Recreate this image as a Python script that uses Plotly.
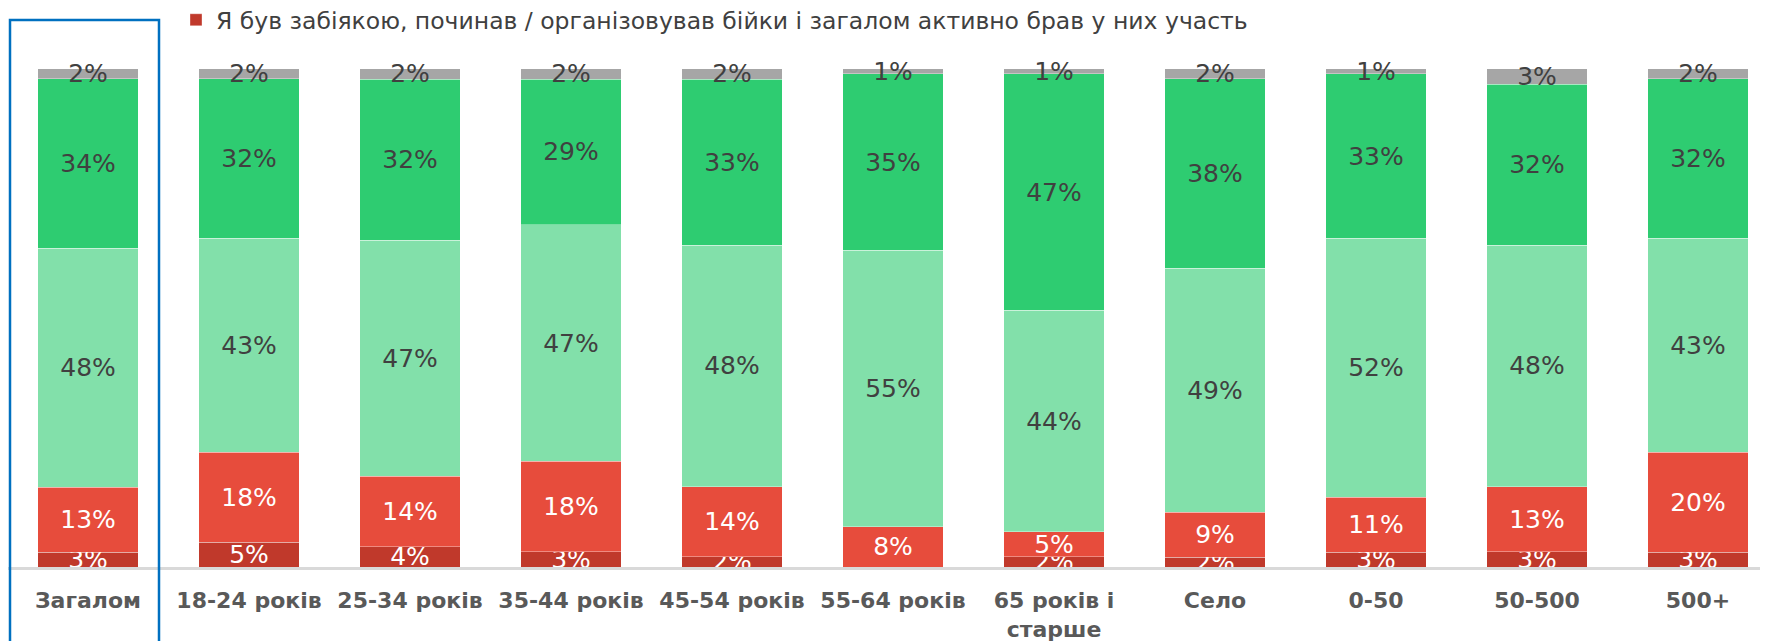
import plotly.graph_objects as go

categories = ["Загалом", "18-24 років", "25-34 років", "35-44 років", "45-54 років",
              "55-64 років", "65 років і<br>старше", "Село", "0-50", "50-500", "500+"]

s_bully = [3, 5, 4, 3, 2, 0, 2, 2, 3, 3, 3]
s_red = [13, 18, 14, 18, 14, 8, 5, 9, 11, 13, 20]
s_lightgreen = [48, 43, 47, 47, 48, 55, 44, 49, 52, 48, 43]
s_green = [34, 32, 32, 29, 33, 35, 47, 38, 33, 32, 32]
s_gray = [2, 2, 2, 2, 2, 1, 1, 2, 1, 3, 2]

legend_name = "Я був забіякою, починав / організовував бійки і загалом активно брав у них участь"

series = [
    (legend_name, s_bully, "#C0392B", "white", True),
    ("s2", s_red, "#E74C3C", "white", False),
    ("s3", s_lightgreen, "#82E0AA", "#404040", False),
    ("s4", s_green, "#2ECC71", "#404040", False),
    ("s5", s_gray, "#A6A6A6", "#404040", False),
]

fig = go.Figure()
for name, vals, color, tcolor, show in series:
    fig.add_trace(go.Bar(
        x=list(range(len(categories))), y=vals, name=name,
        marker=dict(color=color, line=dict(color="rgba(255,255,255,0.35)", width=1)),
        text=[f"{v}%" if v > 0 else "" for v in vals],
        textposition="inside", insidetextanchor="middle", textangle=0,
        constraintext="none",
        textfont=dict(family="DejaVu Sans", size=25, color=tcolor),
        showlegend=show, hoverinfo="skip", cliponaxis=True,
    ))

# page body adds an 8px offset; figure fills the rest of the window
W, H = 1760, 633
ml, mr, mt, mb = 0, 0, 51, 74
ph = H - mt - mb
pw = W - ml - mr
base = H - mb  # baseline pixel in figure coords

fig.update_layout(
    width=W, height=H,
    barmode="stack", barnorm="percent", bargap=0.373,
    margin=dict(l=ml, r=mr, t=mt, b=mb, pad=0, autoexpand=False),
    paper_bgcolor="white", plot_bgcolor="white",
    uniformtext=dict(minsize=25, mode="show"),
    showlegend=True,
    legend=dict(orientation="h", x=168 / pw, xanchor="left",
                y=(base - 12) / ph, yanchor="middle",
                font=dict(family="DejaVu Sans", size=23.5, color="#404040"),
                bgcolor="rgba(0,0,0,0)"),
    xaxis=dict(range=[-0.497, 10.435], tickmode="array",
               tickvals=list(range(len(categories))), ticktext=categories,
               tickfont=dict(family="DejaVu Sans", size=22, color="#595959", weight="bold"),
               showgrid=False, zeroline=False, showline=True, linecolor="#D9D9D9", linewidth=2.5,
               ticks="outside", ticklen=12, tickcolor="rgba(0,0,0,0)"),
    yaxis=dict(range=[0, 102], visible=False, showgrid=False, zeroline=False),
    shapes=[dict(type="rect", xref="paper", yref="paper",
                 x0=2 / pw, x1=151 / pw,
                 y0=(base - 700) / ph, y1=(base - 12) / ph,
                 line=dict(color="#0070C0", width=2.5), fillcolor="rgba(0,0,0,0)")],
)

fig.write_html("out.html")
